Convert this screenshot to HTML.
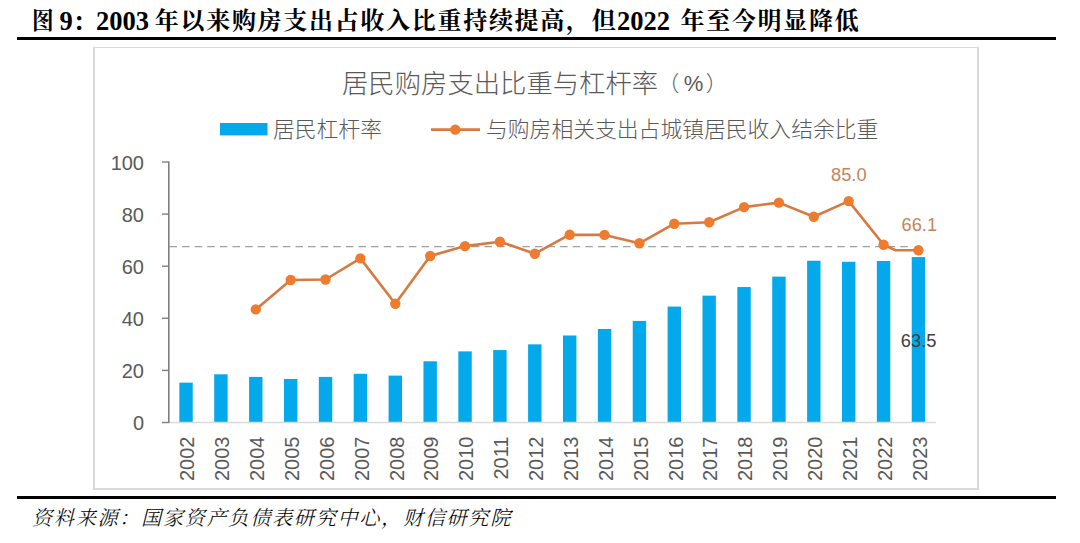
<!DOCTYPE html>
<html lang="zh-CN"><head><meta charset="utf-8"><title>图9</title>
<style>
html,body{margin:0;padding:0;background:#fff;}
body{width:1080px;height:543px;position:relative;overflow:hidden;}
.t{position:absolute;top:5px;font-family:"Liberation Serif","Noto Serif CJK SC",serif;font-weight:700;font-size:24px;letter-spacing:1.7px;line-height:32px;color:#000;white-space:nowrap;}
.rule{position:absolute;left:17px;width:1039px;height:3px;background:#000;}
.box{position:absolute;left:93px;top:47px;width:882px;height:440px;border:2px solid #D9D9D9;border-top-width:1px;}
.ct{position:absolute;left:342px;top:64px;font-family:"Liberation Sans","Noto Sans CJK SC",sans-serif;font-weight:300;font-size:26.35px;line-height:40px;color:#595959;white-space:nowrap;}
.lg{position:absolute;top:114px;font-family:"Liberation Sans","Noto Sans CJK SC",sans-serif;font-weight:300;font-size:21.8px;line-height:32px;color:#595959;white-space:nowrap;}
.src{position:absolute;left:32px;top:503px;font-family:"Liberation Serif","Noto Serif CJK SC",serif;font-style:italic;font-weight:300;font-size:20.2px;letter-spacing:1.63px;line-height:30px;color:#000;white-space:nowrap;}
svg{position:absolute;left:0;top:0;}
.pp{font-size:21.5px;margin-left:-0.5px;position:relative;top:-2px;}
.pc{font-size:22px;margin-left:4.5px;margin-right:2.5px;}
.tn{font-size:26.5px;letter-spacing:0;font-weight:700;}
.ax{font-family:"Liberation Sans",sans-serif;font-size:20px;fill:#595959;}
.lab{font-family:"Liberation Sans",sans-serif;font-size:18.3px;}
</style></head>
<body>
<div class="t" style="left:31.5px;transform:scaleX(0.9);transform-origin:0 0">图</div><div class="t" style="left:59.5px"><span class="tn">9</span>：</div><div class="t tn" style="left:96px">2003</div><div class="t" style="left:154.8px">年以来购房支出占收入比重持续提高，但</div><div class="t tn" style="left:617px">2022</div><div class="t" style="left:680.5px">年至今明显降低</div>
<div class="rule" style="top:37px"></div>
<div class="box"></div>
<div class="ct">居民购房支出比重与杠杆率<span class="pp">（<span class="pc">%</span>）</span></div>
<div class="lg" style="left:273px">居民杠杆率</div>
<div class="lg" style="left:486px">与购房相关支出占城镇居民收入结余比重</div>
<svg width="1080" height="543" viewBox="0 0 1080 543">
<line x1="169.5" y1="246.7" x2="912" y2="246.7" stroke="#A0A0A0" stroke-width="1.25" stroke-dasharray="7.5 5.1"/>
<rect x="179.34" y="382.64" width="13.4" height="39.86" fill="#03A9EA"/>
<rect x="214.21" y="374.31" width="13.4" height="48.19" fill="#03A9EA"/>
<rect x="249.09" y="376.91" width="13.4" height="45.59" fill="#03A9EA"/>
<rect x="283.97" y="379.00" width="13.4" height="43.50" fill="#03A9EA"/>
<rect x="318.84" y="376.91" width="13.4" height="45.59" fill="#03A9EA"/>
<rect x="353.72" y="373.79" width="13.4" height="48.71" fill="#03A9EA"/>
<rect x="388.59" y="375.61" width="13.4" height="46.89" fill="#03A9EA"/>
<rect x="423.47" y="361.28" width="13.4" height="61.22" fill="#03A9EA"/>
<rect x="458.35" y="351.38" width="13.4" height="71.12" fill="#03A9EA"/>
<rect x="493.22" y="350.08" width="13.4" height="72.42" fill="#03A9EA"/>
<rect x="528.10" y="344.35" width="13.4" height="78.15" fill="#03A9EA"/>
<rect x="562.97" y="335.49" width="13.4" height="87.01" fill="#03A9EA"/>
<rect x="597.85" y="328.98" width="13.4" height="93.52" fill="#03A9EA"/>
<rect x="632.73" y="320.90" width="13.4" height="101.60" fill="#03A9EA"/>
<rect x="667.60" y="306.58" width="13.4" height="115.92" fill="#03A9EA"/>
<rect x="702.48" y="295.64" width="13.4" height="126.86" fill="#03A9EA"/>
<rect x="737.35" y="287.04" width="13.4" height="135.46" fill="#03A9EA"/>
<rect x="772.23" y="276.62" width="13.4" height="145.88" fill="#03A9EA"/>
<rect x="807.11" y="260.73" width="13.4" height="161.77" fill="#03A9EA"/>
<rect x="841.98" y="261.77" width="13.4" height="160.73" fill="#03A9EA"/>
<rect x="876.86" y="260.99" width="13.4" height="161.51" fill="#03A9EA"/>
<rect x="911.73" y="257.08" width="13.4" height="165.42" fill="#03A9EA"/>
<line x1="169" y1="422.5" x2="935.8" y2="422.5" stroke="#D9D9D9" stroke-width="1.5"/>
<line x1="168.8" y1="161.5" x2="168.8" y2="423.0" stroke="#7F7F7F" stroke-width="1.6"/>
<line x1="162" y1="422.5" x2="169" y2="422.5" stroke="#7F7F7F" stroke-width="1.4"/>
<text x="144" y="430.1" text-anchor="end" class="ax">0</text>
<line x1="162" y1="370.4" x2="169" y2="370.4" stroke="#7F7F7F" stroke-width="1.4"/>
<text x="144" y="378.0" text-anchor="end" class="ax">20</text>
<line x1="162" y1="318.3" x2="169" y2="318.3" stroke="#7F7F7F" stroke-width="1.4"/>
<text x="144" y="325.9" text-anchor="end" class="ax">40</text>
<line x1="162" y1="266.2" x2="169" y2="266.2" stroke="#7F7F7F" stroke-width="1.4"/>
<text x="144" y="273.8" text-anchor="end" class="ax">60</text>
<line x1="162" y1="214.1" x2="169" y2="214.1" stroke="#7F7F7F" stroke-width="1.4"/>
<text x="144" y="221.7" text-anchor="end" class="ax">80</text>
<line x1="162" y1="162.0" x2="169" y2="162.0" stroke="#7F7F7F" stroke-width="1.4"/>
<text x="144" y="169.6" text-anchor="end" class="ax">100</text>
<text transform="translate(194.2,436.6) rotate(-90)" text-anchor="end" class="ax">2002</text>
<text transform="translate(229.1,436.6) rotate(-90)" text-anchor="end" class="ax">2003</text>
<text transform="translate(264.0,436.6) rotate(-90)" text-anchor="end" class="ax">2004</text>
<text transform="translate(298.9,436.6) rotate(-90)" text-anchor="end" class="ax">2005</text>
<text transform="translate(333.7,436.6) rotate(-90)" text-anchor="end" class="ax">2006</text>
<text transform="translate(368.6,436.6) rotate(-90)" text-anchor="end" class="ax">2007</text>
<text transform="translate(403.5,436.6) rotate(-90)" text-anchor="end" class="ax">2008</text>
<text transform="translate(438.4,436.6) rotate(-90)" text-anchor="end" class="ax">2009</text>
<text transform="translate(473.2,436.6) rotate(-90)" text-anchor="end" class="ax">2010</text>
<text transform="translate(508.1,436.6) rotate(-90)" text-anchor="end" class="ax">2011</text>
<text transform="translate(543.0,436.6) rotate(-90)" text-anchor="end" class="ax">2012</text>
<text transform="translate(577.9,436.6) rotate(-90)" text-anchor="end" class="ax">2013</text>
<text transform="translate(612.8,436.6) rotate(-90)" text-anchor="end" class="ax">2014</text>
<text transform="translate(647.6,436.6) rotate(-90)" text-anchor="end" class="ax">2015</text>
<text transform="translate(682.5,436.6) rotate(-90)" text-anchor="end" class="ax">2016</text>
<text transform="translate(717.4,436.6) rotate(-90)" text-anchor="end" class="ax">2017</text>
<text transform="translate(752.3,436.6) rotate(-90)" text-anchor="end" class="ax">2018</text>
<text transform="translate(787.1,436.6) rotate(-90)" text-anchor="end" class="ax">2019</text>
<text transform="translate(822.0,436.6) rotate(-90)" text-anchor="end" class="ax">2020</text>
<text transform="translate(856.9,436.6) rotate(-90)" text-anchor="end" class="ax">2021</text>
<text transform="translate(891.8,436.6) rotate(-90)" text-anchor="end" class="ax">2022</text>
<text transform="translate(926.6,436.6) rotate(-90)" text-anchor="end" class="ax">2023</text>
<polyline points="255.8,309.4 290.7,280.0 325.5,279.5 360.4,258.4 395.3,303.7 430.2,256.0 465.0,246.1 499.9,241.7 534.8,253.7 569.7,234.7 604.5,234.9 639.4,243.3 674.3,223.7 709.2,222.2 744.1,207.1 778.9,202.6 813.8,216.7 848.7,201.1 883.6,244.8 895.5,250.3 918.4,250.3" fill="none" stroke="#D67A42" stroke-width="2.6" stroke-linejoin="round"/>
<circle cx="255.8" cy="309.4" r="5.2" fill="#EE7B2E"/>
<circle cx="290.7" cy="280.0" r="5.2" fill="#EE7B2E"/>
<circle cx="325.5" cy="279.5" r="5.2" fill="#EE7B2E"/>
<circle cx="360.4" cy="258.4" r="5.2" fill="#EE7B2E"/>
<circle cx="395.3" cy="303.7" r="5.2" fill="#EE7B2E"/>
<circle cx="430.2" cy="256.0" r="5.2" fill="#EE7B2E"/>
<circle cx="465.0" cy="246.1" r="5.2" fill="#EE7B2E"/>
<circle cx="499.9" cy="241.7" r="5.2" fill="#EE7B2E"/>
<circle cx="534.8" cy="253.7" r="5.2" fill="#EE7B2E"/>
<circle cx="569.7" cy="234.7" r="5.2" fill="#EE7B2E"/>
<circle cx="604.5" cy="234.9" r="5.2" fill="#EE7B2E"/>
<circle cx="639.4" cy="243.3" r="5.2" fill="#EE7B2E"/>
<circle cx="674.3" cy="223.7" r="5.2" fill="#EE7B2E"/>
<circle cx="709.2" cy="222.2" r="5.2" fill="#EE7B2E"/>
<circle cx="744.1" cy="207.1" r="5.2" fill="#EE7B2E"/>
<circle cx="778.9" cy="202.6" r="5.2" fill="#EE7B2E"/>
<circle cx="813.8" cy="216.7" r="5.2" fill="#EE7B2E"/>
<circle cx="848.7" cy="201.1" r="5.2" fill="#EE7B2E"/>
<circle cx="883.6" cy="244.8" r="5.2" fill="#EE7B2E"/>
<circle cx="918.4" cy="250.3" r="5.2" fill="#EE7B2E"/>
<text x="848.8" y="181.1" text-anchor="middle" class="lab" fill="#C4845A">85.0</text>
<text x="919.3" y="231" text-anchor="middle" class="lab" fill="#C4845A">66.1</text>
<text x="918.6" y="347.4" text-anchor="middle" class="lab" fill="#404040">63.5</text>
<rect x="220" y="123" width="47.5" height="12.4" fill="#03A9EA"/>
<line x1="431" y1="129.6" x2="480" y2="129.6" stroke="#D67A42" stroke-width="2.6"/>
<circle cx="455.3" cy="129.6" r="5.2" fill="#EE7B2E"/>
</svg>
<div class="rule" style="top:496px"></div>
<div class="src">资料来源：国家资产负债表研究中心，财信研究院</div>
</body></html>
